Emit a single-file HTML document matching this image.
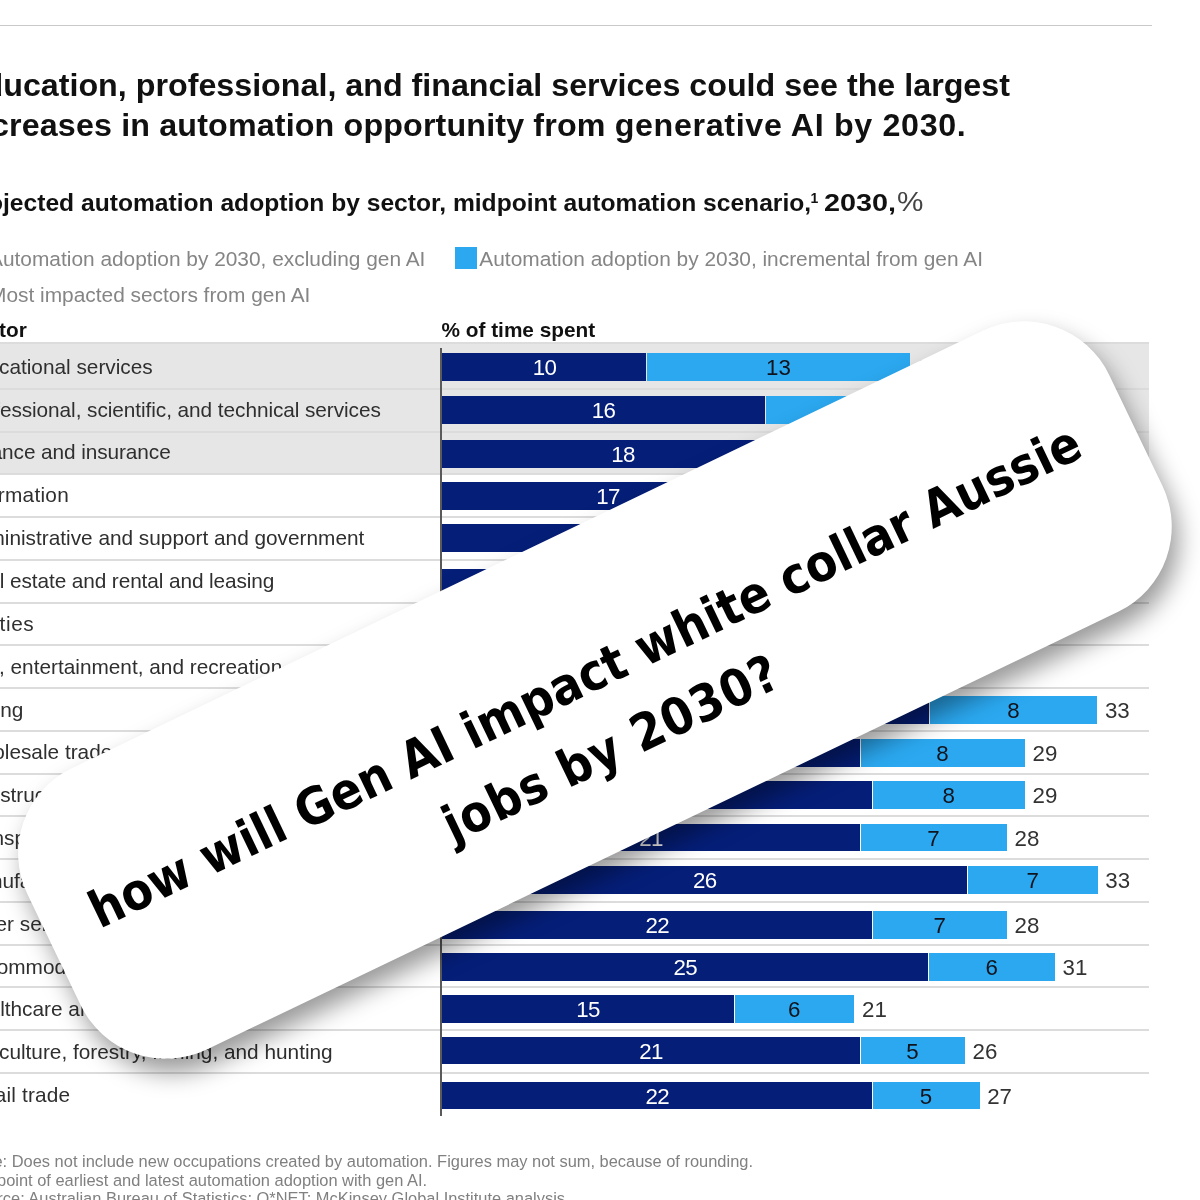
<!DOCTYPE html>
<html lang="en">
<head>
<meta charset="utf-8">
<title>how will Gen AI impact white collar Aussie jobs by 2030?</title>
<style>
html,body{margin:0;padding:0;background:#fff;}
body{width:1200px;height:1200px;overflow:hidden;position:relative;font-family:"Liberation Sans",Arial,sans-serif;color:#000;}
#stage{position:absolute;left:0;top:0;width:1200px;height:1200px;overflow:hidden;background:#fff;}
#chart{position:absolute;left:0;top:0;width:1200px;height:1200px;filter:blur(0.5px);}
.abs{position:absolute;white-space:nowrap;line-height:1;}
.topline{position:absolute;left:0;top:24.8px;width:1152px;height:1.6px;background:#c9c9c9;}
.title{font-weight:bold;font-size:32.24px;color:#111;letter-spacing:0px;}
.sub{font-weight:bold;font-size:24.5px;color:#111;}
.leg{font-size:20.88px;color:#858585;}
.hdr{font-weight:bold;font-size:20.8px;color:#111;}
.lab{font-size:20.8px;color:#2f2f2f;}
.band{position:absolute;left:0;width:1149px;background:#e6e6e6;}
.sep{position:absolute;left:0;width:1149px;height:2px;background:#dcdcdc;}
.axis{position:absolute;width:1.6px;background:#5a5a5a;}
.bar{position:absolute;height:27.5px;}
.d{background:#051e78;}
.l{background:#2ba8f0;}
.num{position:absolute;font-size:22.3px;line-height:27.5px;height:27.5px;text-align:center;white-space:nowrap;}
.nd{color:#fff;letter-spacing:-0.6px;}
.nl{color:#10131c;}
.nt{color:#333;text-align:left;}
.foot{font-size:16.43px;color:#808080;}
#card{position:absolute;left:-4.52px;top:534.14px;width:1200.2px;height:312.3px;border-radius:94.5px;background:#fff;transform:rotate(-25.65deg);
 box-shadow:0px 15px 24px 0px rgba(0,0,0,0.4);}
#cardtext{position:absolute;left:0;top:0;width:100%;text-align:center;font-family:"DejaVu Sans Condensed","DejaVu Sans","Liberation Sans",sans-serif;font-weight:bold;font-stretch:condensed;font-size:50.9px;line-height:75.7px;color:#000;white-space:nowrap;}
</style>
</head>
<body>
<div id="stage">
<div id="chart">
<div class="topline"></div>
<div class="abs title" style="left:-38.0px;top:69.1px;">Education, professional, and financial services could see the largest</div>
<div class="abs title" style="left:-38.0px;top:109.4px;letter-spacing:0.15px;">increases in automation opportunity from <span style='letter-spacing:0.65px'>generative AI by 2030.</span></div>
<div class="abs sub" style="left:-38.0px;top:191.4px;font-size:24.62px;">Projected automation adoption by sector, midpoint automation scenario,</div>
<div class="abs sub" style="left:810.5px;top:191.1px;font-size:14px;">1</div>
<div class="abs sub" style="left:824.0px;top:191.4px;font-size:24.62px;transform:scaleX(1.17);transform-origin:left center;">2030,</div>
<div class="abs sub" style="left:897.0px;top:189.3px;font-size:27px;font-weight:normal;color:#444;transform:scaleX(1.1);transform-origin:left center;">%</div>
<div class="abs leg" style="left:-11.0px;top:249.2px;">Automation adoption by 2030, excluding gen AI</div>
<div style="position:absolute;left:455px;top:247px;width:22px;height:21.5px;background:#2ba8f0;"></div>
<div style="position:absolute;left:-37px;top:247px;width:22px;height:21.5px;background:#051e78;"></div>
<div style="position:absolute;left:-37px;top:283px;width:22px;height:21.5px;background:#e6e6e6;"></div>
<div class="abs leg" style="left:479.3px;top:249.1px;">Automation adoption by 2030, incremental from gen AI</div>
<div class="abs leg" style="left:-11.0px;top:285.1px;">Most impacted sectors from gen AI</div>
<div class="abs hdr" style="left:-38.0px;top:320.4px;">Sector</div>
<div class="abs hdr" style="left:441.5px;top:320.4px;">% of time spent</div>
<div class="band" style="top:343.3px;height:131.1px;"></div>
<div class="sep" style="top:342.3px;"></div>
<div class="sep" style="top:387.9px;"></div>
<div class="sep" style="top:430.6px;"></div>
<div class="sep" style="top:473.4px;"></div>
<div class="sep" style="top:516.1px;"></div>
<div class="sep" style="top:558.9px;"></div>
<div class="sep" style="top:601.6px;"></div>
<div class="sep" style="top:644.3px;"></div>
<div class="sep" style="top:687.1px;"></div>
<div class="sep" style="top:729.8px;"></div>
<div class="sep" style="top:772.6px;"></div>
<div class="sep" style="top:815.3px;"></div>
<div class="sep" style="top:858.0px;"></div>
<div class="sep" style="top:900.8px;"></div>
<div class="sep" style="top:943.5px;"></div>
<div class="sep" style="top:986.3px;"></div>
<div class="sep" style="top:1029.0px;"></div>
<div class="sep" style="top:1071.7px;"></div>
<div class="axis" style="left:440.2px;top:347.5px;height:768.0px;"></div>
<div class="abs lab" style="left:-38.0px;top:356.7px;">Educational services</div>
<div class="bar d" style="left:442.0px;top:353.0px;width:204.4px;"></div><div class="bar l" style="left:647.4px;top:353.0px;width:262.6px;"></div><div class="num nd" style="left:442.0px;top:353.8px;width:204.9px;">10</div><div class="num nl" style="left:646.9px;top:353.8px;width:263.1px;">13</div><div class="num nt" style="left:917.6px;top:353.8px;">23</div>
<div class="abs lab" style="left:-38.0px;top:399.5px;letter-spacing:-0.065px;">Professional, scientific, and technical services</div>
<div class="bar d" style="left:442.0px;top:396.2px;width:322.5px;"></div><div class="bar l" style="left:765.5px;top:396.2px;width:219.5px;"></div><div class="num nd" style="left:442.0px;top:397.0px;width:323.0px;">16</div><div class="num nl" style="left:765.0px;top:397.0px;width:220.0px;">11</div><div class="num nt" style="left:992.6px;top:397.0px;">27</div>
<div class="abs lab" style="left:-38.0px;top:442.4px;letter-spacing:-0.085px;">Finance and insurance</div>
<div class="bar d" style="left:442.0px;top:440.3px;width:361.5px;"></div><div class="bar l" style="left:804.5px;top:440.3px;width:198.5px;"></div><div class="num nd" style="left:442.0px;top:441.1px;width:362.0px;">18</div><div class="num nl" style="left:804.0px;top:441.1px;width:199.0px;">10</div><div class="num nt" style="left:1010.6px;top:441.1px;">28</div>
<div class="abs lab" style="left:-38.0px;top:485.2px;letter-spacing:0.27px;">Information</div>
<div class="bar d" style="left:442.0px;top:482.3px;width:331.5px;"></div><div class="bar l" style="left:774.5px;top:482.3px;width:200.5px;"></div><div class="num nd" style="left:442.0px;top:483.1px;width:332.0px;">17</div><div class="num nl" style="left:774.0px;top:483.1px;width:201.0px;">10</div><div class="num nt" style="left:982.6px;top:483.1px;">27</div>
<div class="abs lab" style="left:-38.0px;top:528.1px;">Administrative and support and government</div>
<div class="bar d" style="left:442.0px;top:524.1px;width:357.5px;"></div><div class="bar l" style="left:800.5px;top:524.1px;width:184.5px;"></div><div class="num nd" style="left:442.0px;top:524.9px;width:358.0px;">18</div><div class="num nl" style="left:800.0px;top:524.9px;width:185.0px;">9</div><div class="num nt" style="left:992.6px;top:524.9px;">27</div>
<div class="abs lab" style="left:-38.0px;top:570.9px;letter-spacing:-0.1px;">Real estate and rental and leasing</div>
<div class="bar d" style="left:442.0px;top:568.7px;width:337.5px;"></div><div class="bar l" style="left:780.5px;top:568.7px;width:184.5px;"></div><div class="num nd" style="left:442.0px;top:569.5px;width:338.0px;">17</div><div class="num nl" style="left:780.0px;top:569.5px;width:185.0px;">9</div><div class="num nt" style="left:972.6px;top:569.5px;">26</div>
<div class="abs lab" style="left:-38.0px;top:613.8px;letter-spacing:0.59px;">Utilities</div>
<div class="bar d" style="left:442.0px;top:611.0px;width:417.5px;"></div><div class="bar l" style="left:860.5px;top:611.0px;width:169.5px;"></div><div class="num nd" style="left:442.0px;top:611.8px;width:418.0px;">21</div><div class="num nl" style="left:860.0px;top:611.8px;width:170.0px;">9</div><div class="num nt" style="left:1037.6px;top:611.8px;">30</div>
<div class="abs lab" style="left:-38.0px;top:656.6px;">Arts, entertainment, and recreation</div>
<div class="bar d" style="left:442.0px;top:653.7px;width:337.5px;"></div><div class="bar l" style="left:780.5px;top:653.7px;width:159.5px;"></div><div class="num nd" style="left:442.0px;top:654.5px;width:338.0px;">17</div><div class="num nl" style="left:780.0px;top:654.5px;width:160.0px;">8</div><div class="num nt" style="left:947.6px;top:654.5px;">25</div>
<div class="abs lab" style="left:-38.0px;top:699.5px;">Mining</div>
<div class="bar d" style="left:442.0px;top:696.4px;width:486.9px;"></div><div class="bar l" style="left:929.9px;top:696.4px;width:167.4px;"></div><div class="num nd" style="left:442.0px;top:697.2px;width:487.4px;">25</div><div class="num nl" style="left:929.4px;top:697.2px;width:167.9px;">8</div><div class="num nt" style="left:1104.9px;top:697.2px;">33</div>
<div class="abs lab" style="left:-38.0px;top:742.3px;">Wholesale trade</div>
<div class="bar d" style="left:442.0px;top:739.2px;width:417.5px;"></div><div class="bar l" style="left:860.5px;top:739.2px;width:164.5px;"></div><div class="num nd" style="left:442.0px;top:740.0px;width:418.0px;">21</div><div class="num nl" style="left:860.0px;top:740.0px;width:165.0px;">8</div><div class="num nt" style="left:1032.6px;top:740.0px;">29</div>
<div class="abs lab" style="left:-38.0px;top:785.2px;">Construction</div>
<div class="bar d" style="left:442.0px;top:781.2px;width:429.9px;"></div><div class="bar l" style="left:872.9px;top:781.2px;width:152.1px;"></div><div class="num nd" style="left:442.0px;top:782.0px;width:430.4px;">22</div><div class="num nl" style="left:872.4px;top:782.0px;width:152.6px;">8</div><div class="num nt" style="left:1032.6px;top:782.0px;">29</div>
<div class="abs lab" style="left:-38.0px;top:828.0px;">Transportation and warehousing</div>
<div class="bar d" style="left:442.0px;top:823.9px;width:417.5px;"></div><div class="bar l" style="left:860.5px;top:823.9px;width:146.5px;"></div><div class="num nd" style="left:442.0px;top:824.7px;width:418.0px;">21</div><div class="num nl" style="left:860.0px;top:824.7px;width:147.0px;">7</div><div class="num nt" style="left:1014.6px;top:824.7px;">28</div>
<div class="abs lab" style="left:-38.0px;top:870.9px;">Manufacturing</div>
<div class="bar d" style="left:442.0px;top:866.1px;width:525.1px;"></div><div class="bar l" style="left:968.1px;top:866.1px;width:129.6px;"></div><div class="num nd" style="left:442.0px;top:866.9px;width:525.6px;">26</div><div class="num nl" style="left:967.6px;top:866.9px;width:130.1px;">7</div><div class="num nt" style="left:1105.3px;top:866.9px;">33</div>
<div class="abs lab" style="left:-38.0px;top:913.7px;">Other services</div>
<div class="bar d" style="left:442.0px;top:911.0px;width:429.9px;"></div><div class="bar l" style="left:872.9px;top:911.0px;width:134.1px;"></div><div class="num nd" style="left:442.0px;top:911.8px;width:430.4px;">22</div><div class="num nl" style="left:872.4px;top:911.8px;width:134.6px;">7</div><div class="num nt" style="left:1014.6px;top:911.8px;">28</div>
<div class="abs lab" style="left:-38.0px;top:956.6px;">Accommodation and food services</div>
<div class="bar d" style="left:442.0px;top:953.2px;width:486.1px;"></div><div class="bar l" style="left:929.1px;top:953.2px;width:125.9px;"></div><div class="num nd" style="left:442.0px;top:954.0px;width:486.6px;">25</div><div class="num nl" style="left:928.6px;top:954.0px;width:126.4px;">6</div><div class="num nt" style="left:1062.6px;top:954.0px;">31</div>
<div class="abs lab" style="left:-38.0px;top:999.4px;">Healthcare and social assistance</div>
<div class="bar d" style="left:442.0px;top:995.0px;width:291.5px;"></div><div class="bar l" style="left:734.5px;top:995.0px;width:119.9px;"></div><div class="num nd" style="left:442.0px;top:995.8px;width:292.0px;">15</div><div class="num nl" style="left:734.0px;top:995.8px;width:120.4px;">6</div><div class="num nt" style="left:862.0px;top:995.8px;">21</div>
<div class="abs lab" style="left:-38.0px;top:1042.3px;">Agriculture, forestry, fishing, and hunting</div>
<div class="bar d" style="left:442.0px;top:1036.7px;width:417.5px;"></div><div class="bar l" style="left:860.5px;top:1036.7px;width:104.5px;"></div><div class="num nd" style="left:442.0px;top:1037.5px;width:418.0px;">21</div><div class="num nl" style="left:860.0px;top:1037.5px;width:105.0px;">5</div><div class="num nt" style="left:972.6px;top:1037.5px;">26</div>
<div class="abs lab" style="left:-38.0px;top:1085.1px;letter-spacing:0.15px;">Retail trade</div>
<div class="bar d" style="left:442.0px;top:1081.7px;width:429.9px;"></div><div class="bar l" style="left:872.9px;top:1081.7px;width:106.7px;"></div><div class="num nd" style="left:442.0px;top:1082.5px;width:430.4px;">22</div><div class="num nl" style="left:872.4px;top:1082.5px;width:107.2px;">5</div><div class="num nt" style="left:987.2px;top:1082.5px;">27</div>
<div class="abs foot" style="left:-32.1px;top:1153.1px;">Note: Does not include new occupations created by automation. Figures may not sum, because of rounding.</div>
<div class="abs foot" style="left:-35.0px;top:1171.5px;"><span style='font-size:10px;position:relative;top:-6px'>1</span>Midpoint of earliest and latest automation adoption with gen AI.</div>
<div class="abs foot" style="left:-31.9px;top:1190.0px;">Source: Australian Bureau of Statistics; O*NET; McKinsey Global Institute analysis</div>
</div>
<div id="card"><div id="cardtext" style="top:102.3px;left:-3.25px;">how will Gen AI impact white collar Aussie<br><span style="position:relative;left:-7.75px;letter-spacing:0.85px;">jobs by 2030?</span></div></div>
</div>
</body>
</html>
